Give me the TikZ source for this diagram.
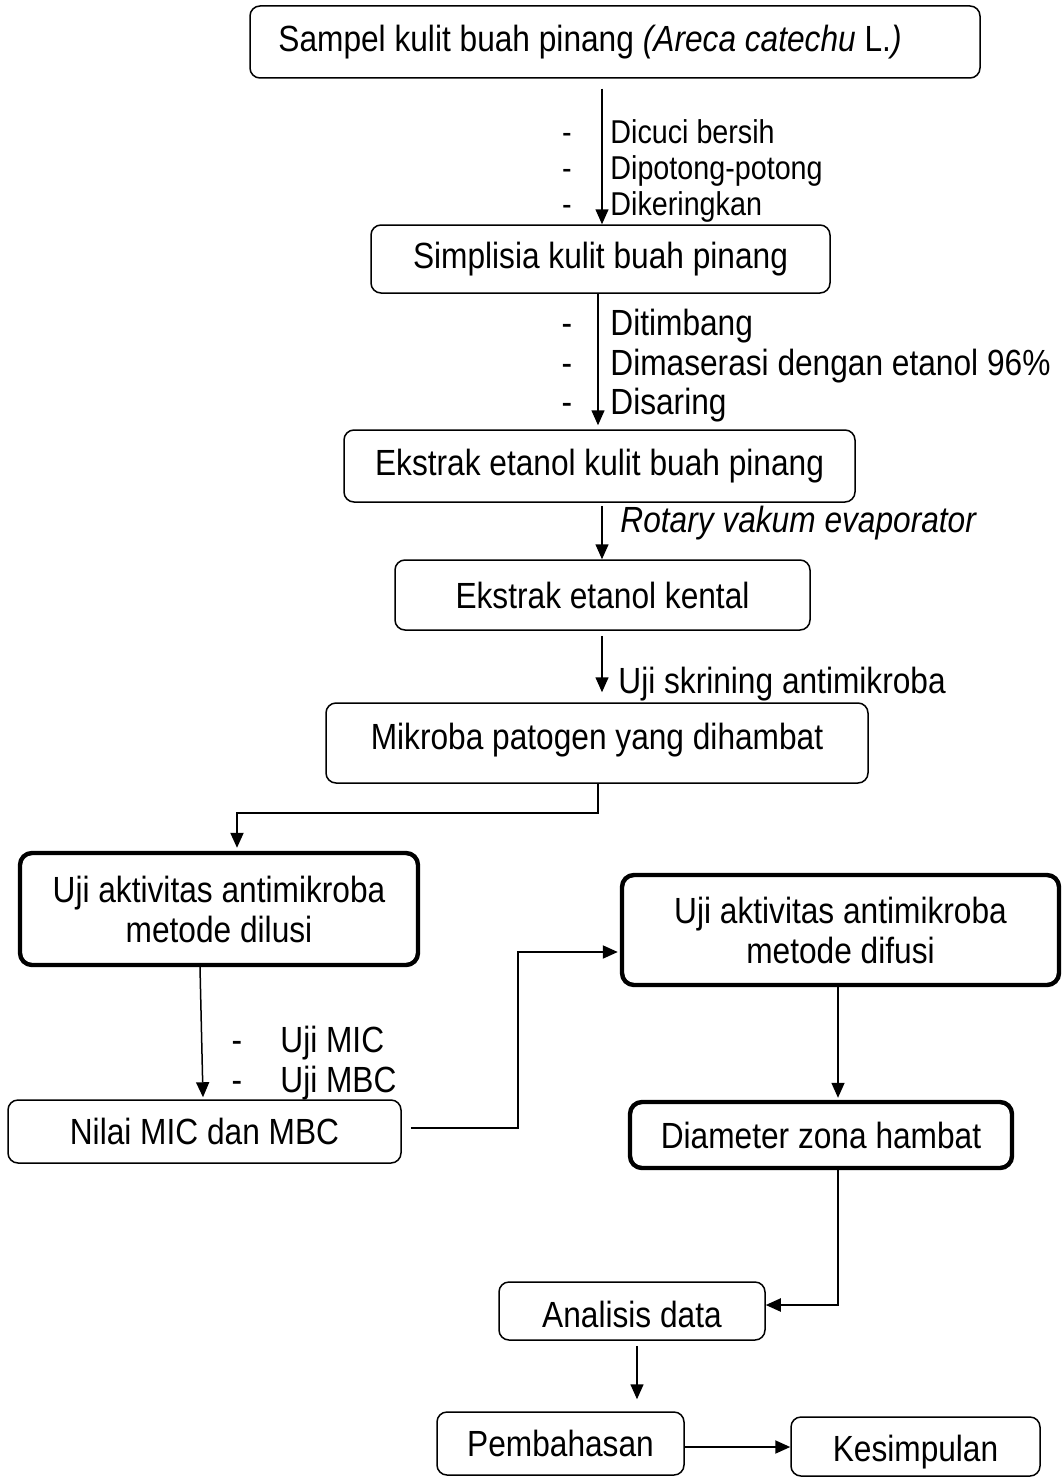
\documentclass[tikz,border=0pt]{standalone}
\usepackage{fontspec}
\setmainfont{Liberation Sans}[FakeStretch=0.87]
\usetikzlibrary{arrows.meta,calc}
\newcommand{\mvtext}[2]{\raisebox{#1}[\height][\depth]{#2}}
\begin{document}
\begin{tikzpicture}[x=0.5pt,y=-0.5pt,
  font=\fontsize{18.2}{20}\selectfont,
  box/.style={draw, line width=0.75pt, rounded corners=5pt, align=center, inner sep=0pt},
  thickbox/.style={draw, line width=2.2pt, rounded corners=6pt, align=center, inner sep=0pt},
  lbl/.style={anchor=base west, inner sep=0pt},
  dsh/.style={anchor=base, inner sep=0pt},
  small/.style={font=\fontsize{16.5}{18}\selectfont},
  arr/.style={line width=0.75pt, -{Triangle[length=7.5pt,width=6.5pt]}},
  arrb/.style={line width=1pt, -{Triangle[length=7.5pt,width=6.5pt]}}]
\useasboundingbox (0,0) rectangle (1062,1477);

\node[box, minimum width=365pt, minimum height=36pt] (box1) at (615,42) {Sampel kulit buah pinang \textit{(Areca catechu} L.\textit{)}\hspace{25pt}};
\node[box, minimum width=229.5pt, minimum height=34pt] (box2) at (600.5,259) {Simplisia kulit buah pinang};
\node[box, minimum width=255.5pt, minimum height=36pt] (box3) at (599.5,466) {Ekstrak etanol kulit buah pinang};
\node[box, minimum width=207.5pt, minimum height=35pt] (box4) at (602.5,595) {Ekstrak etanol kental};
\node[box, minimum width=271pt, minimum height=40pt] (box5) at (597,743) {\mvtext{1.5pt}{Mikroba patogen yang dihambat}};
\node[thickbox, minimum width=199pt, minimum height=56pt] (box6) at (219,909) {Uji aktivitas antimikroba\\metode dilusi};
\node[thickbox, minimum width=218.5pt, minimum height=55pt] (box7) at (840.5,930) {Uji aktivitas antimikroba\\metode difusi};
\node[box, minimum width=196.5pt, minimum height=31.5pt] (box8) at (204.5,1131.5) {Nilai MIC dan MBC};
\node[thickbox, minimum width=191pt, minimum height=33pt] (box9) at (821,1135) {Diameter zona hambat};
\node[box, minimum width=133pt, minimum height=29pt] (box10) at (632,1311) {\mvtext{-1.5pt}{Analisis data}};
\node[box, minimum width=123.5pt, minimum height=31.5pt] (box11) at (560.5,1443.5) {Pembahasan};
\node[box, minimum width=124.5pt, minimum height=29.5pt] (box12) at (915.5,1446.5) {\mvtext{-3pt}{Kesimpulan}};

% labels
\node[dsh, small] (d1) at (567,143) {-};
\node[dsh, small] (d2) at (567,179) {-};
\node[dsh, small] (d3) at (567,215) {-};
\node[lbl, small] (l1) at (610,143) {Dicuci bersih};
\node[lbl, small] (l2) at (610,179) {Dipotong-potong};
\node[lbl, small] (l3) at (610,215) {Dikeringkan};

\node[dsh] (d4) at (567,335) {-};
\node[dsh] (d5) at (567,375) {-};
\node[dsh] (d6) at (567,414) {-};
\node[lbl] (l4) at (610,335) {Ditimbang};
\node[lbl] (l5) at (610,375) {Dimaserasi dengan etanol 96\%};
\node[lbl] (l6) at (610,414) {Disaring};

\node[lbl] (l7) at (620,532) {\textit{Rotary vakum evaporator}};
\node[lbl] (l8) at (618,693) {Uji skrining antimikroba};

\node[dsh] (d9) at (237,1052) {-};
\node[dsh] (d10) at (237,1092) {-};
\node[lbl] (l9) at (280,1052) {Uji MIC};
\node[lbl] (l10) at (280,1092) {Uji MBC};

% connectors
\draw[arr] ($(box1.south)+(-13,10)$) -- ($(box2.north)+(1.5,0)$);
\draw[arr] ($(box2.south)+(-2.5,0)$) -- ($(box3.north)+(-1.5,-4)$);
\draw[arr] ($(box3.south)+(2.5,3)$) -- ($(box4.north)+(-0.5,0)$);
\draw[arr] ($(box4.south)+(-0.5,5)$) -- ($(box5.north)+(5,-10)$);
\draw[arrb] ($(box5.south)+(1,0)$) -- ++(0,29) -| ($(box6.north)+(18,-3)$);
\draw[arr] ($(box6.south)+(-19,0)$) -- ($(box8.north)+(-1.5,-2)$);
\draw[arrb] ($(box8.east)+(9,-3.5)$) -- ++(107,0) |- ($(box7.west)+(-2,22)$);
\draw[arr] ($(box7.south)+(-2.5,0)$) -- ($(box9.north)+(17,-2)$);
\draw[arrb] ($(box9.south)+(17,0)$) |- ($(box10.east)+(0,-6)$);
\draw[arr] ($(box10.south)+(5,5)$) -- ($(box11.north)+(76.5,-12)$);
\draw[arrb] ($(box11.east)+(0,3.5)$) -- ($(box12.west)+(0,0.5)$);
\end{tikzpicture}
\end{document}
